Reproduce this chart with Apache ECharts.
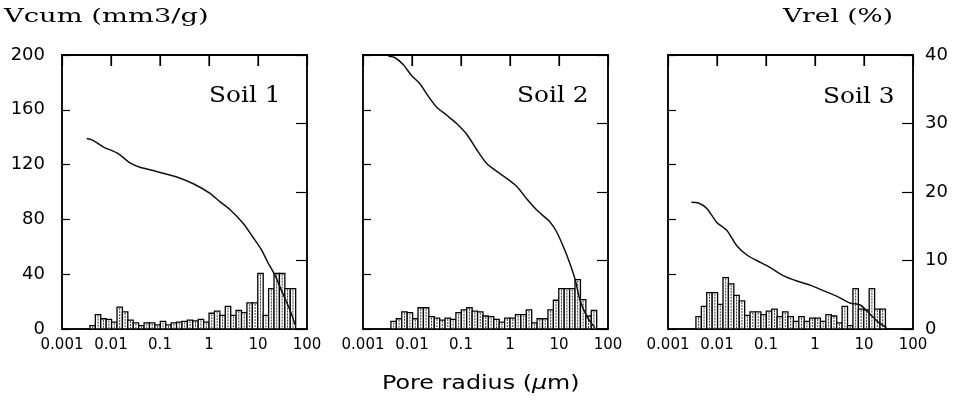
<!DOCTYPE html>
<html><head><meta charset="utf-8">
<script src="https://cdn.jsdelivr.net/npm/echarts@6/dist/echarts.min.js"></script>
<style>html,body{margin:0;padding:0;background:#fff}#c{width:956px;height:412px;background:#fff}</style>
</head><body><div id="c"></div>
<script>
// Pore-radius class edges (µm), shared by the three histograms
const radiusEdges = [0.003715, 0.004792, 0.006180, 0.007970, 0.010280, 0.013258, 0.017100, 0.022053,
  0.028445, 0.036683, 0.047315, 0.061024, 0.078705, 0.10151, 0.13092, 0.16886, 0.21777, 0.28088,
  0.36224, 0.46720, 0.60256, 0.77714, 1.0023, 1.2927, 1.6672, 2.1503, 2.7733, 3.5769, 4.6132,
  5.9498, 7.6736, 9.8969, 12.764, 16.463, 21.232, 27.384, 35.318, 45.551, 58.749];

const xTickValues = [0.001, 0.01, 0.1, 1, 10, 100];
const xTickLabels = ['0.001', '0.01', '0.1', '1', '10', '100'];
const panelNames = ['Soil 1', 'Soil 2', 'Soil 3'];

// Relative pore volume per class (%), right axis
const vrel1 = [0.5, 2.1, 1.5, 1.4, 1.0, 3.2, 2.5, 1.3, 0.9, 0.5, 0.9, 0.9, 0.6, 1.1, 0.6, 0.9, 1.0, 1.1, 1.3,
  1.2, 1.4, 1.0, 2.3, 2.6, 2.0, 3.3, 2.0, 2.7, 2.4, 3.8, 3.8, 8.1, 2.0, 5.9, 8.1, 8.1, 5.9, 5.9];
const vrel2 = [1.1, 1.5, 2.5, 2.4, 1.5, 3.1, 3.1, 1.8, 1.6, 1.3, 1.6, 1.4, 2.4, 2.8, 3.1, 2.6, 2.5, 1.9, 1.8,
  1.4, 1.0, 1.6, 1.6, 2.1, 2.1, 2.8, 0.9, 1.5, 1.5, 2.8, 4.2, 5.9, 5.9, 5.9, 7.2, 4.3, 1.9, 2.7];
const vrel3 = [1.8, 3.3, 5.3, 5.3, 3.6, 7.5, 6.6, 4.9, 4.1, 2.0, 2.5, 2.5, 2.1, 2.6, 2.9, 1.8, 2.5, 1.8, 1.1,
  1.8, 1.1, 1.6, 1.6, 1.1, 2.1, 1.9, 0.9, 3.3, 0.5, 5.9, 2.9, 2.8, 5.9, 2.9, 2.9];

// Cumulative pore volume (mm3/g), left axis
const radius1 = [0.0032, 0.0041, 0.0069, 0.014, 0.025, 0.039, 0.085, 0.22, 0.48, 1.05, 1.66, 2.7, 5.0, 7.9,
  11.7, 16.2, 22.4, 30.2, 44.7, 57.5];
const vcum1 = [139, 138, 133, 128, 121, 118, 115, 111, 106, 99, 93, 87, 77, 67, 58, 48, 39, 28, 14, 3];
const radius2 = [0.0033, 0.0045, 0.0066, 0.0098, 0.0145, 0.0214, 0.0316, 0.0513, 0.0813, 0.132, 0.209, 0.331,
  0.537, 0.851, 1.38, 2.19, 3.47, 6.61, 8.91, 12.3, 16.6, 21.4, 26.9, 37.2, 53.7];
const vcum2 = [199, 198, 193, 185, 179, 170, 162, 156, 150, 142, 131, 121, 115, 110, 104, 95, 87, 78, 71, 60,
  48, 36, 21, 9, 1];
const radius3 = [0.0030, 0.0042, 0.0062, 0.0098, 0.0158, 0.0251, 0.0407, 0.0646, 0.120, 0.224, 0.427, 0.794,
  1.48, 2.75, 5.13, 8.32, 13.2, 19.5, 28.8];
const vcum3 = [92.5, 92, 88, 78, 72, 61, 54, 50, 45, 39, 35, 32, 28, 24, 19, 17.5, 11, 5, 1];

const vrelSets = [vrel1, vrel2, vrel3];
const radiusSets = [radius1, radius2, radius3];
const vcumSets = [vcum1, vcum2, vcum3];

const chart = echarts.init(document.getElementById('c'));
const gridLefts = [62, 363, 668];
const gridW = 245, gridTop = 55, gridH = 274;
const black = '#000';
const sans = '"DejaVu Sans", sans-serif';
const serif = '"DejaVu Serif", serif';
const VCUM_MAX = 200, X_MIN = 0.001, X_MAX = 100;

function axLine() { return {show: true, onZero: false, lineStyle: {color: black, width: 1.5}}; }
function tick(len) { return {show: true, inside: true, length: len, lineStyle: {color: black, width: 1.2}}; }
function noSplit() { return {lineStyle: {color: 'rgba(0,0,0,0)'}}; }

const grids = [], xAxes = [], yAxes = [], series = [];
for (let i = 0; i < 3; i++) {
  grids.push({left: gridLefts[i], width: gridW, top: gridTop, height: gridH,
    show: true, borderColor: black, borderWidth: 1.5});
  xAxes.push({type: 'log', logBase: 10, gridIndex: i, min: X_MIN, max: X_MAX, position: 'bottom',
    splitLine: noSplit(), axisLine: axLine(), axisTick: {show: false},
    axisLabel: {color: black, fontFamily: sans, fontSize: 15, margin: 9,
      formatter: v => xTickLabels[Math.round(Math.log10(v)) + 3]}});
  xAxes.push({type: 'log', logBase: 10, gridIndex: i, min: X_MIN, max: X_MAX, position: 'top',
    splitLine: noSplit(), axisLine: axLine(), axisTick: tick(11), axisLabel: {show: false}});
  yAxes.push({type: 'value', gridIndex: i, position: 'left', min: 0, max: VCUM_MAX, interval: 40,
    splitLine: noSplit(), axisLine: axLine(), axisTick: tick(8),
    axisLabel: {show: i === 0, color: black, fontFamily: sans, fontSize: 18, margin: 17}});
  yAxes.push({type: 'value', gridIndex: i, position: 'right', min: 0, max: 40, interval: 10,
    splitLine: noSplit(), axisLine: axLine(), axisTick: tick(11),
    axisLabel: {show: i === 2, color: black, fontFamily: sans, fontSize: 18, margin: 12}});

  const vr = vrelSets[i];
  series.push({
    type: 'custom', xAxisIndex: 2 * i, yAxisIndex: 2 * i + 1,
    data: vr.map((v, k) => [radiusEdges[k], radiusEdges[k + 1], v]),
    encode: {x: [0, 1], y: 2},
    renderItem: (params, api) => {
      const p0 = api.coord([api.value(0), 0]);
      const p1 = api.coord([api.value(1), api.value(2)]);
      const w = p1[0] - p0[0], h = p0[1] - p1[1];
      const mid = p0[0] + w / 2;
      return {type: 'group', children: [
        {type: 'rect', shape: {x: p0[0], y: p1[1], width: w, height: h},
          style: {fill: '#fff', stroke: black, lineWidth: 1.3}},
        {type: 'line', shape: {x1: mid, y1: p1[1] + 1, x2: mid, y2: p0[1]},
          style: {stroke: '#333', lineWidth: 1, lineDash: [2, 1]}}
      ]};
    }
  });
  series.push({
    type: 'line', xAxisIndex: 2 * i + 1, yAxisIndex: 2 * i,
    data: radiusSets[i].map((r, j) => [r, vcumSets[i][j]]),
    symbol: 'none', smooth: 0.25,
    lineStyle: {color: '#111', width: 1.5}
  });
  // Top frame edge and inward top ticks, placed through the axis scales
  series.push({
    type: 'custom', xAxisIndex: 2 * i + 1, yAxisIndex: 2 * i, z: 4, silent: true,
    data: xTickValues.map(v => [v, VCUM_MAX]),
    encode: {x: 0, y: 1},
    renderItem: (params, api) => {
      const p = api.coord([api.value(0), api.value(1)]);
      const children = [];
      const v = api.value(0);
      if (v > X_MIN && v < X_MAX) {
        children.push({type: 'line', shape: {x1: p[0], y1: p[1], x2: p[0], y2: p[1] + 11},
          style: {stroke: black, lineWidth: 1.2}});
      }
      if (params.dataIndex === 0) {
        const a = api.coord([X_MIN, VCUM_MAX]);
        const b = api.coord([X_MAX, VCUM_MAX]);
        children.push({type: 'line', shape: {x1: a[0] - 0.75, y1: a[1], x2: b[0] + 0.75, y2: b[1]},
          style: {stroke: black, lineWidth: 1.5}});
      }
      return {type: 'group', children: children};
    }
  });
}

const soilPos = [[209, 96], [517, 96], [823, 97]];
const graphic = [
  {type: 'text', x: 4, y: 17, scaleX: 1.52,
    style: {text: 'Vcum (mm3/g)', font: '18px ' + serif, fill: black, align: 'left', verticalAlign: 'middle'}},
  {type: 'text', x: 783, y: 17, scaleX: 1.47,
    style: {text: 'Vrel (%)', font: '18px ' + serif, fill: black, align: 'left', verticalAlign: 'middle'}},
  {type: 'text', x: 382, y: 384, scaleX: 1.19,
    style: {text: '{a|Pore radius (}{b|μ}{a|m)}', fill: black, align: 'left', verticalAlign: 'middle',
      rich: {a: {fontFamily: sans, fontSize: 20, fill: black},
             b: {fontFamily: sans, fontSize: 20, fontStyle: 'italic', fill: black}}}}
];
panelNames.forEach((name, i) => {
  graphic.push({type: 'text', x: soilPos[i][0], y: soilPos[i][1], scaleX: 1.13,
    style: {text: name, font: '22px ' + serif, fill: black, align: 'left', verticalAlign: 'middle'}});
});

chart.setOption({
  animation: false,
  grid: grids, xAxis: xAxes, yAxis: yAxes, series: series, graphic: graphic
});
</script>
</body></html>
